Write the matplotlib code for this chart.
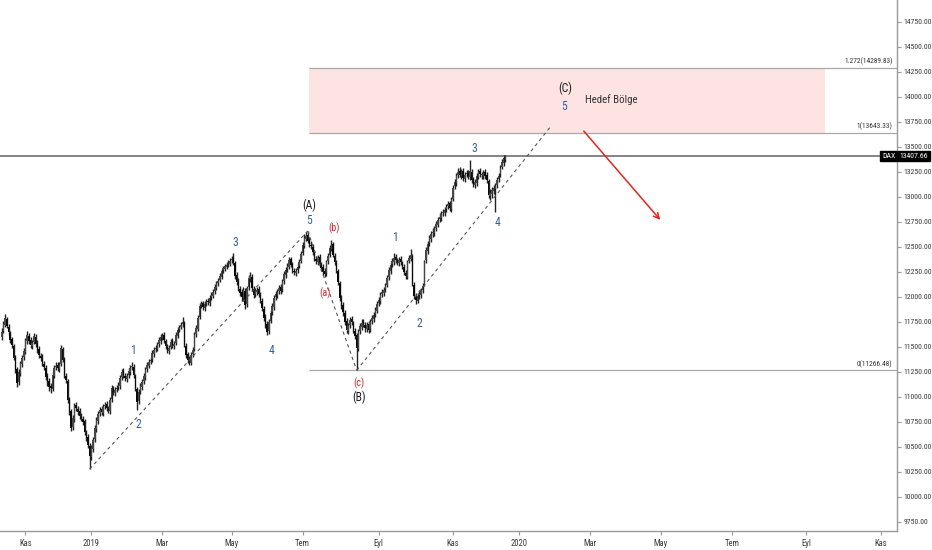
import os
import numpy as np
import pandas as pd
import matplotlib
matplotlib.use("Agg")
import matplotlib.pyplot as plt
from matplotlib import font_manager
from matplotlib.font_manager import FontProperties
from matplotlib.patches import Rectangle
from matplotlib.transforms import blended_transform_factory

# ---------------- data (DAX daily) ----------------
closes = [11650,11730,11790,11710,11650,11570,11520,11390,11270,11140,
11250,11340,11390,11460,11570,11620,11560,11520,11540,11610,
11530,11470,11420,11390,11340,11300,11200,11150,11100,11090,
11220,11290,11310,11290,11320,11490,11370,11220,11170,10970,
10850,10690,10790,10910,10890,10850,10810,10790,10750,10650,
10590,10520,10410,10490,10570,10690,10770,10830,10870,10850,
10900,10920,10890,10870,10970,11090,11050,11070,11090,11120,
11190,11250,11220,11190,11210,11260,11290,11310,11220,11090,
10950,11050,11110,11150,11210,11270,11320,11350,11370,11440,
11470,11490,11520,11570,11600,11610,11570,11510,11470,11490,
11550,11520,11530,11620,11670,11690,11720,11750,11520,11420,
11370,11350,11420,11470,11620,11690,11790,11910,11930,11900,
11930,11950,11950,11990,12020,12050,12100,12130,12160,12210,
12260,12290,12310,12320,12340,12360,12380,12350,12210,12150,
12090,12040,12000,12070,11920,12090,12190,12210,12090,12020,
12060,12070,12030,11970,11890,11790,11720,11650,11750,11840,
11910,11990,12030,12050,12090,12060,12150,12230,12270,12310,
12370,12320,12270,12250,12260,12300,12350,12430,12520,12590,
12610,12560,12530,12510,12450,12390,12360,12390,12330,12290,
12250,12230,12350,12410,12490,12520,12420,12350,12270,12150,
11990,11910,11850,11750,11670,11710,11770,11750,11670,11610,
11490,11650,11710,11740,11730,11690,11720,11670,11750,11790,
11820,11870,11930,11970,12020,12050,12070,12110,12190,12270,
12320,12360,12390,12370,12350,12370,12350,12310,12250,12210,
12350,12390,12420,12130,12010,11970,12010,12030,12060,12110,
12350,12470,12530,12590,12630,12650,12680,12730,12770,12800,
12830,12850,12870,12900,12930,12890,12970,13090,13150,13210,
13250,13220,13250,13190,13220,13230,13210,13260,13170,13130,
13150,13210,13250,13230,13220,13240,13210,13170,13020,13040,
13070,13090,13110,13170,13210,13290,13350,13390,13407.66]

opens = [11600,11660,11720,11780,11700,11640,11580,11510,11400,11280,
11150,11240,11330,11400,11450,11560,11610,11570,11510,11550,
11600,11540,11480,11410,11400,11330,11290,11210,11160,11110,
11080,11210,11300,11320,11280,11330,11480,11380,11210,11160,
10980,10860,10700,10780,10920,10880,10860,10800,10780,10760,
10640,10600,10510,10400,10480,10580,10680,10760,10840,10880,
10840,10910,10930,10880,10860,10980,11080,11040,11080,11100,
11110,11200,11260,11210,11180,11220,11250,11300,11300,11210,
11080,10960,11060,11100,11160,11200,11280,11310,11360,11380,
11430,11480,11480,11530,11560,11590,11620,11560,11500,11460,
11500,11560,11510,11540,11610,11680,11700,11730,11740,11510,
11430,11380,11340,11430,11480,11630,11680,11800,11920,11940,
11890,11940,11960,11940,12000,12010,12060,12090,12140,12170,
12200,12270,12280,12300,12330,12330,12370,12390,12340,12220,
12160,12080,12050,11990,12060,11930,12100,12180,12200,12080,
12030,12050,12080,12020,11960,11880,11800,11730,11660,11760,
11850,11900,12000,12020,12060,12100,12080,12160,12220,12280,
12300,12380,12330,12260,12240,12270,12310,12360,12440,12510,
12580,12620,12570,12520,12500,12440,12380,12350,12400,12320,
12300,12260,12240,12360,12420,12480,12530,12410,12340,12260,
12140,11980,11920,11840,11760,11660,11720,11780,11740,11660,
11620,11480,11660,11700,11750,11720,11680,11730,11680,11760,
11780,11830,11860,11940,11960,12030,12040,12080,12120,12200,
12260,12330,12350,12400,12360,12340,12380,12340,12300,12240,
12200,12360,12380,12410,12120,12000,11960,12020,12020,12070,
12130,12370,12460,12540,12580,12640,12640,12690,12720,12780,
12790,12840,12840,12880,12910,12940,12880,12980,13110,13140,
13220,13260,13210,13260,13180,13230,13240,13200,13250,13180,
13120,13140,13200,13260,13220,13210,13250,13220,13160,13010,
13030,13060,13080,13120,13180,13230,13300,13340,13370]

highs = [11690,11760,11830,11800,11730,11660,11600,11530,11420,11300,
11280,11360,11420,11490,11590,11660,11640,11600,11570,11640,
11630,11570,11510,11440,11430,11360,11320,11240,11190,11140,
11250,11320,11350,11350,11350,11520,11500,11400,11240,11180,
11000,10880,10820,10940,10950,10910,10890,10840,10810,10780,
10670,10630,10540,10520,10600,10720,10800,10860,10900,10910,
10930,10950,10960,10910,11000,11120,11110,11100,11120,11150,
11220,11280,11290,11240,11240,11290,11320,11350,11330,11230,
11100,11080,11140,11180,11240,11300,11350,11380,11400,11470,
11500,11520,11550,11600,11630,11640,11650,11580,11530,11520,
11580,11590,11560,11650,11700,11720,11750,11800,11760,11540,
11450,11410,11450,11500,11650,11720,11820,11940,11960,11960,
11960,11980,11990,12020,12050,12080,12130,12160,12190,12240,
12280,12310,12330,12350,12370,12390,12410,12440,12360,12250,
12190,12110,12080,12100,12090,12110,12220,12250,12230,12110,
12090,12100,12110,12050,11990,11910,11830,11760,11780,11870,
11940,12020,12060,12080,12120,12130,12180,12260,12300,12340,
12400,12400,12350,12290,12290,12330,12380,12460,12550,12630,
12650,12660,12600,12560,12530,12460,12410,12420,12430,12350,
12330,12290,12370,12440,12520,12570,12550,12440,12370,12280,
12160,12020,11950,11870,11790,11740,11800,11810,11760,11690,
11640,11680,11740,11780,11780,11750,11750,11760,11780,11820,
11850,11900,11960,12000,12050,12080,12100,12140,12220,12300,
12350,12390,12440,12430,12390,12400,12410,12360,12330,12270,
12370,12420,12480,12430,12150,12040,12040,12070,12090,12140,
12370,12500,12560,12620,12660,12690,12710,12760,12800,12840,
12860,12880,12900,12930,12960,12960,13000,13120,13180,13240,
13290,13300,13280,13290,13250,13270,13270,13375,13280,13200,
13180,13240,13280,13290,13250,13270,13280,13250,13180,13080,
13100,13120,13140,13200,13240,13320,13380,13420,13425]

lows = [11570,11640,11700,11690,11620,11540,11490,11370,11240,11100,
11120,11210,11300,11370,11430,11530,11530,11490,11480,11530,
11500,11440,11390,11360,11310,11270,11170,11110,11060,11040,
11060,11190,11270,11260,11250,11310,11350,11190,11140,10940,
10820,10660,10670,10750,10860,10820,10780,10760,10720,10620,
10560,10490,10280,10370,10450,10550,10650,10730,10810,10820,
10810,10880,10860,10840,10830,10950,11020,11010,11050,11070,
11080,11170,11190,11160,11150,11190,11220,11270,11190,11060,
10870,10930,11030,11070,11130,11170,11250,11290,11330,11350,
11400,11450,11460,11500,11530,11570,11540,11480,11440,11430,
11480,11490,11480,11520,11590,11650,11680,11700,11500,11390,
11340,11320,11320,11400,11460,11600,11660,11780,11890,11870,
11860,11910,11920,11910,11970,11990,12030,12070,12110,12150,
12180,12240,12260,12280,12300,12310,12340,12320,12180,12120,
12060,12010,11960,11960,11880,11900,12070,12150,12060,11990,
12000,12020,12000,11940,11860,11760,11690,11620,11630,11740,
11820,11870,11970,11990,12030,12030,12050,12130,12190,12250,
12280,12300,12240,12220,12210,12240,12290,12340,12420,12490,
12560,12540,12500,12480,12420,12360,12330,12320,12300,12260,
12220,12200,12210,12330,12400,12460,12400,12320,12240,12120,
11960,11880,11810,11720,11640,11630,11690,11720,11640,11580,
11266.48,11460,11630,11670,11700,11650,11650,11640,11650,11730,
11750,11800,11840,11910,11930,12000,12010,12050,12100,12170,
12230,12300,12320,12340,12320,12310,12320,12280,12220,12180,
12180,12340,12360,12110,11980,11930,11940,11980,11990,12040,
12110,12340,12430,12510,12550,12600,12610,12660,12700,12750,
12760,12810,12810,12850,12880,12860,12850,12960,13080,13110,
13190,13200,13180,13160,13150,13200,13180,13170,13140,13100,
13090,13110,13180,13200,13180,13180,13180,13140,12990,12970,
12990,13030,12850,13090,13150,13200,13280,13310,13350]

exchange_holidays = ['2018-12-24', '2018-12-25', '2018-12-26', '2018-12-31',
                     '2019-01-01', '2019-04-19', '2019-04-22', '2019-05-01',
                     '2019-12-24', '2019-12-25', '2019-12-26', '2019-12-31',
                     '2020-01-01', '2020-04-10', '2020-04-13', '2020-05-01',
                     '2020-12-24', '2020-12-25', '2020-12-31']
month_names = {1: 'Oca', 3: 'Mar', 5: 'May', 7: 'Tem', 9: 'Eyl', 11: 'Kas'}
fib_levels = [0.0, 1.0, 1.272]
fib_prices = [11266.48, 13643.33, 14289.83]
last_price = 13407.66
symbol = 'DAX'

# ---------------- fonts: look for a narrow face like the original ----------------
prio = ['liberationsansnarrow', 'robotocondensed', 'notosans-condensed', 'notosanscondensed',
        'opensanscondensed', 'opensans-condensed', 'dejavusanscondensed', 'dejavu']
bad = ['bold', 'italic', 'oblique', 'light', 'thin', 'black', 'medium', 'semi', 'extra', 'mono', 'serif']
cands = []
for f in font_manager.fontManager.ttflist:
    fn = os.path.basename(f.fname).lower().replace('_', '')
    if ('condensed' in fn or 'narrow' in fn) and not any(b in fn for b in bad):
        rank = next((k for k, p in enumerate(prio) if p in fn), len(prio))
        cands.append((rank, f.fname))
cands.sort()
if cands:
    NARROW = FontProperties(fname=cands[0][1])
else:
    NARROW = FontProperties(family=['Liberation Sans', 'DejaVu Sans'])

fig = plt.figure(figsize=(9.32, 5.5), dpi=100)
renderer = fig.canvas.get_renderer()


def fp(size):
    p = NARROW.copy()
    p.set_size(size)
    return p


def fit_size(sample, max_px, start=9.0):
    size = start
    while size > 4:
        t = fig.text(0, 0, sample, fontproperties=fp(size))
        w = t.get_window_extent(renderer).width
        t.remove()
        if w <= max_px:
            return size
        size -= 0.1
    return size


TICK_FS = min(fit_size('14750.00', 29), 7.0)
FIB_FS = min(fit_size('1.272(14289.83)', 49), 7.0)
XT_FS = min(fit_size('2019', 17), 7.2)
WAVE_FS = min(fit_size('(A)', 14, 14), 10.5)
HED_FS = min(fit_size('Hedef Bölge', 53, 12), 9.0)

# ---------------- calendar / scales ----------------
cal = pd.bdate_range('2018-10-12', '2020-12-31', freq='C', holidays=exchange_holidays)
n = len(closes)
xs = np.arange(n)

ax = fig.add_axes([0, 19 / 550, 897 / 932, 531 / 550])
ax.set_xlim(-1.07, 529.7)
ax.set_ylim(9660, 14970)

BLUE = '#2f5f9e'
RED = '#d7262e'
DARK = '#1e1e1e'

# target box (behind)
i_A = int(np.argmax(highs[:250]))
box_end = 487
ax.add_patch(Rectangle((i_A + 1, fib_prices[1]), box_end - i_A - 1,
                       fib_prices[2] - fib_prices[1], facecolor='#fde3e1',
                       edgecolor='none', zorder=0))
tr = blended_transform_factory(ax.transAxes, ax.transData)
for lev, pr in zip(fib_levels, fib_prices):
    ax.hlines(pr, i_A + 1, 529.7, color='#a8a8a8', lw=0.9, zorder=1)
    lab = ('%g' % lev) + '(%.2f)' % pr
    ax.text(0.995, pr + 25, lab, transform=tr, ha='right', va='bottom',
            color='#333333', fontproperties=fp(FIB_FS))

# last price line
ax.axhline(last_price, color='#858585', lw=1.4, zorder=1)

# candles
o = np.array(opens); c = np.array(closes); h = np.array(highs); l = np.array(lows)
ax.vlines(xs, l, h, color='#222222', lw=1.0, zorder=3)
body_lo = np.minimum(o, c)
body_h = np.maximum(np.abs(c - o), 10)
up = c >= o
ax.bar(xs[up], body_h[up], bottom=body_lo[up], width=0.9, color='#474747', lw=0, zorder=4)
ax.bar(xs[~up], body_h[~up], bottom=body_lo[~up], width=0.9, color='#0a0a0a', lw=0, zorder=4)

# wave structure lines
i_low0 = int(np.argmin(lows[:120]))
i_B = int(np.argmin(lows[150:260])) + 150
dash = dict(color='#555555', lw=0.8, ls=(0, (3, 3)), zorder=5)
ax.plot([i_low0, i_A], [lows[i_low0], highs[i_A]], **dash)
ax.plot([i_A, i_B], [highs[i_A], lows[i_B]], **dash)
ax.plot([i_B, 325], [lows[i_B], 13710], **dash)

# labels
def lbl(x, y, s, col, fs=None):
    ax.text(x, y, s, color=col, fontproperties=fp(fs or WAVE_FS), ha='center', va='center', zorder=6)

lbl(77.6, 11460, '1', BLUE)
lbl(80.6, 10720, '2', BLUE)
lbl(138, 12540, '3', BLUE)
lbl(159.3, 11460, '4', BLUE)
lbl(181.8, 12920, '(A)', DARK)
lbl(181.8, 12760, '5', BLUE)
lbl(196.6, 12690, '(b)', RED, WAVE_FS * 0.88)
lbl(191.2, 12040, '(a)', RED, WAVE_FS * 0.88)
lbl(211.4, 11140, '(c)', RED, WAVE_FS * 0.88)
lbl(211.4, 11000, '(B)', DARK)
lbl(232.7, 12590, '1', BLUE)
lbl(246.9, 11730, '2', BLUE)
lbl(279.4, 13480, '3', BLUE)
lbl(293.6, 12740, '4', BLUE)
lbl(333.2, 14090, '(C)', DARK)
lbl(332.7, 13900, '5', BLUE)
ax.text(345.1, 13970, 'Hedef Bölge', color='#333333', ha='left', va='center',
        fontproperties=fp(HED_FS), zorder=6)
ax.annotate('', xy=(390.7, 12750), xytext=(343.3, 13680),
            arrowprops=dict(arrowstyle='->', color='#e0261e', lw=1.1, mutation_scale=10), zorder=6)

# axes styling
for s in ['top', 'left']:
    ax.spines[s].set_visible(False)
for s in ['right', 'bottom']:
    ax.spines[s].set_color('#9a9a9a')
    ax.spines[s].set_linewidth(1.0)
ax.yaxis.tick_right()
yt = np.arange(9750, 14751, 250)
ax.set_yticks(yt)
ax.set_yticklabels(['%.2f' % v for v in yt], color='#3a3a3a', fontproperties=fp(TICK_FS))
ax.tick_params(axis='y', length=3, color='#9a9a9a', pad=1.5)

tick_pos, tick_lab = [], []
for ym in pd.date_range('2018-11-01', '2020-11-01', freq='2MS'):
    tick_pos.append(int(cal.searchsorted(ym)))
    tick_lab.append(str(ym.year) if ym.month == 1 else month_names[ym.month])
ax.set_xticks(tick_pos)
ax.set_xticklabels(tick_lab, color='#3a3a3a', fontproperties=fp(XT_FS))
ax.tick_params(axis='x', length=3, color='#9a9a9a', pad=3)

# price tags on the axis
ax.text(1.003, last_price, '%.2f' % last_price, transform=tr, ha='left', va='center',
        color='white', clip_on=False, zorder=10, fontproperties=fp(TICK_FS),
        bbox=dict(boxstyle='square,pad=0.25', fc='black', ec='black'))
ax.text(0.998, last_price, symbol, transform=tr, ha='right', va='center',
        color='white', clip_on=False, zorder=10, fontproperties=fp(TICK_FS),
        bbox=dict(boxstyle='square,pad=0.25', fc='black', ec='black'))

fig.savefig('out.png', dpi=100, facecolor='white')
